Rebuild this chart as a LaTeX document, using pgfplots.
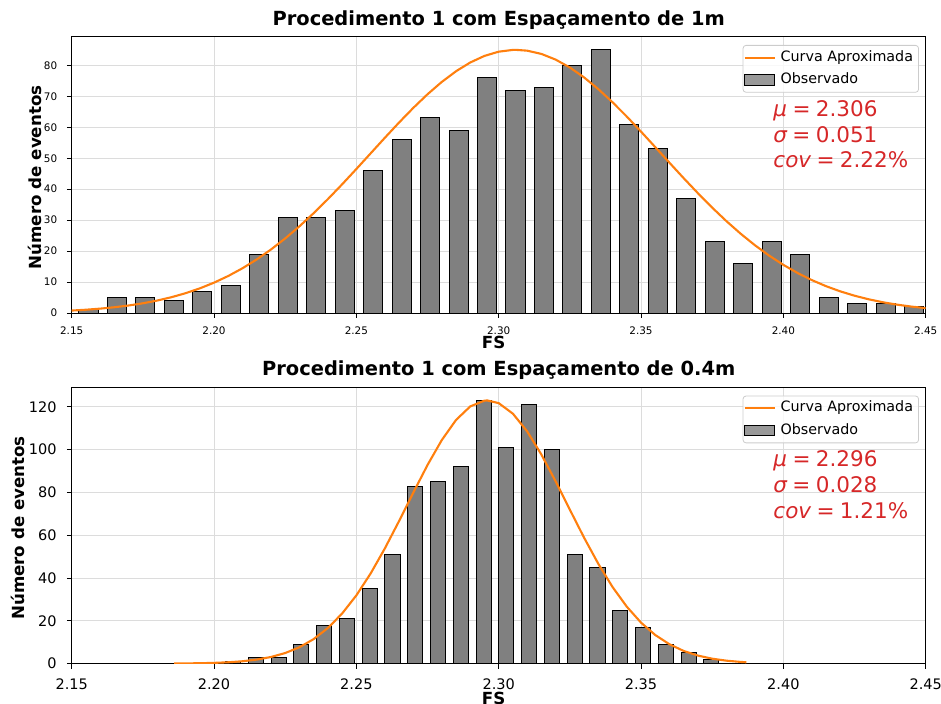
\documentclass[border=0pt]{standalone}
\usepackage{fontspec}
\setmainfont{DejaVu Sans}
\usepackage{pgfplots}
\pgfplotsset{compat=1.18}
\definecolor{barfill}{RGB}{128,128,128}
\definecolor{curveor}{RGB}{255,127,14}
\definecolor{annred}{RGB}{214,39,40}
\definecolor{gridc}{RGB}{220,220,220}
\definecolor{legedge}{RGB}{204,204,204}
\newcommand{\annfont}{\fontsize{21.5bp}{24bp}\selectfont}
\newcommand{\eqs}{\hspace{0.25em}=\hspace{0.25em}}
\pgfplotsset{
  histstyle/.style={
    scale only axis, width=854bp, height=276.3bp,
    xmin=2.15, xmax=2.45, ymin=0,
    xtick={2.15,2.2,2.25,2.3,2.35,2.4,2.45},
    xticklabels={2.15,2.20,2.25,2.30,2.35,2.40,2.45},
    grid=major, grid style={gridc, line width=0.8bp},
    axis line style={black, line width=1bp},
    tick align=outside, tick pos=left, major tick length=4.9bp,
    tick style={black, line width=1bp},
    /pgf/number format/assume math mode=true,
    legend style={at={(axis description cs:0.9921,0.970)}, anchor=north east,
      draw=legedge, line width=0.8bp, rounded corners=3bp, fill=white, fill opacity=0.8, text opacity=1,
      font=\fontsize{14.3bp}{16bp}\selectfont, inner xsep=0.5bp, inner ysep=4bp, row sep=5.5bp,
      nodes={inner xsep=5bp, inner ysep=1.5bp, text height=10.5bp, text depth=3.2bp}},
    legend cell align=left, reverse legend,
    title style={font=\bfseries\fontsize{19.44bp}{22bp}\selectfont, at={(axis description cs:0.5,1.0185)}, anchor=base},
    label style={font=\bfseries\fontsize{16.67bp}{19bp}\selectfont},
    xlabel={FS}, ylabel={Número de eventos},
    yticklabel style={anchor=east, inner sep=0pt},
    xticklabel style={anchor=base, inner sep=0pt},
  },
  barleg/.style={legend image code/.code={\draw[sharp corners, fill=barfill, draw=black, line width=1bp] (0bp,-5.3bp) rectangle (30bp,5.3bp);}},
  curveleg/.style={legend image code/.code={\draw[sharp corners, curveor, line width=2.1bp] (0bp,0bp) -- (30bp,0bp);}},
}
\begin{document}
\begin{tikzpicture}
\path[use as bounding box] (0bp,0bp) rectangle (941bp,-704bp);
% ---------------- top ----------------
\begin{axis}[histstyle, at={(71.7bp,-36.7bp)}, anchor=north west,
  ymax=89.25, ytick={0,10,20,30,40,50,60,70,80},
  title={Procedimento 1 com Espaçamento de 1m},
  ticklabel style={font=\fontsize{10.4bp}{12bp}\selectfont},
  xticklabel style={yshift=-16.7bp},
  yticklabel style={xshift=-9.4bp},
  xlabel style={at={(axis description cs:0.494,-0.1292)}, anchor=base},
  ylabel style={at={(axis description cs:-0.0351,0.491)}, anchor=base},
]
\addplot[ybar, bar width=0.0067, bar shift=0pt, fill=barfill, draw=black, line width=1bp, barleg]
coordinates {
(2.1559,1) (2.1659,5) (2.1759,5) (2.1859,4) (2.1959,7) (2.2059,9) (2.2159,19) (2.2259,31)
(2.2359,31) (2.2459,33) (2.2559,46) (2.2659,56) (2.2759,63) (2.2859,59) (2.2959,76) (2.3059,72)
(2.3159,73) (2.3259,80) (2.3359,85) (2.3459,61) (2.3559,53) (2.3659,37) (2.3759,23) (2.3859,16)
(2.3959,23) (2.4059,19) (2.4159,5) (2.4259,3) (2.4359,3) (2.4459,2)};
\addlegendentry{Observado}
\addplot[curveor, line width=2.1bp, mark=none, curveleg]
coordinates {
(2.150,0.790) (2.155,1.061) (2.160,1.412) (2.165,1.861) (2.170,2.428) (2.175,3.138)
(2.180,4.018) (2.185,5.094) (2.190,6.398) (2.195,7.958) (2.200,9.804) (2.205,11.961)
(2.210,14.455) (2.215,17.301) (2.220,20.509) (2.225,24.082) (2.230,28.004) (2.235,32.253)
(2.240,36.792) (2.245,41.569) (2.250,46.517) (2.255,51.555) (2.260,56.593) (2.265,61.529)
(2.270,66.256) (2.275,70.662) (2.280,74.642) (2.285,78.091) (2.290,80.918) (2.295,83.046)
(2.300,84.414) (2.305,84.984) (2.306,85.000) (2.310,84.739) (2.315,83.687) (2.320,81.857)
(2.325,79.301) (2.330,76.091) (2.335,72.312) (2.340,68.063) (2.345,63.451) (2.350,58.585)
(2.355,53.575) (2.360,48.526) (2.365,43.533) (2.370,38.679) (2.375,34.036) (2.380,29.666)
(2.385,25.608) (2.390,21.896) (2.395,18.540) (2.400,15.550) (2.405,12.918) (2.410,10.629)
(2.415,8.659) (2.420,6.989) (2.425,5.587) (2.430,4.423) (2.435,3.468) (2.440,2.693)
(2.445,2.072) (2.450,1.578)};
\addlegendentry{Curva Aproximada}
\node[anchor=base west, inner sep=0pt, text=annred, font=\annfont]
  at (axis description cs:0.8215,0.711) {{\itshape μ}\eqs 2.306};
\node[anchor=base west, inner sep=0pt, text=annred, font=\annfont]
  at (axis description cs:0.8215,0.618) {{\itshape σ}\eqs 0.051};
\node[anchor=base west, inner sep=0pt, text=annred, font=\annfont]
  at (axis description cs:0.8215,0.525) {{\itshape cov}\eqs 2.22\%};
\end{axis}
% ---------------- bottom ----------------
\begin{axis}[histstyle, at={(71.7bp,-387.3bp)}, anchor=north west,
  ymax=129.15, ytick={0,20,40,60,80,100,120},
  title={Procedimento 1 com Espaçamento de 0.4m},
  title style={at={(axis description cs:0.5,1.0228)}},
  ticklabel style={font=\fontsize{14.5bp}{16bp}\selectfont},
  xticklabel style={yshift=-20.7bp},
  yticklabel style={xshift=-10bp},
  xlabel style={at={(axis description cs:0.494,-0.1467)}, anchor=base},
  ylabel style={at={(axis description cs:-0.0547,0.491)}, anchor=base},
]
\addplot[ybar, bar width=0.0053, bar shift=0pt, fill=barfill, draw=black, line width=1bp, barleg]
coordinates {
(2.2067,1) (2.2147,3) (2.2227,3) (2.2307,9) (2.2387,18) (2.2467,21) (2.2547,35) (2.2627,51)
(2.2707,83) (2.2787,85) (2.2867,92) (2.2947,123) (2.3027,101) (2.3107,121) (2.3187,100)
(2.3267,51) (2.3347,45) (2.3427,25) (2.3507,17) (2.3587,9) (2.3667,5) (2.3747,2)};
\addlegendentry{Observado}
\addplot[curveor, line width=2.1bp, mark=none, curveleg]
coordinates {
(2.186,0.055) (2.190,0.095) (2.195,0.184) (2.200,0.345) (2.205,0.626) (2.210,1.100)
(2.215,1.874) (2.220,3.091) (2.225,4.940) (2.230,7.645) (2.235,11.462) (2.240,16.646)
(2.245,23.415) (2.250,31.903) (2.255,42.103) (2.260,53.820) (2.265,66.640) (2.270,79.923)
(2.275,92.845) (2.280,104.47) (2.285,113.87) (2.290,120.21) (2.295,122.92) (2.296,123.00)
(2.300,121.75) (2.305,116.81) (2.310,108.55) (2.315,97.705) (2.320,85.186) (2.325,71.940)
(2.330,58.847) (2.335,46.626) (2.340,35.784) (2.345,26.601) (2.350,19.154) (2.355,13.358)
(2.360,9.024) (2.365,5.905) (2.370,3.743) (2.375,2.298) (2.380,1.366) (2.385,0.787)
(2.387,0.626)};
\addlegendentry{Curva Aproximada}
\node[anchor=base west, inner sep=0pt, text=annred, font=\annfont]
  at (axis description cs:0.8215,0.712) {{\itshape μ}\eqs 2.296};
\node[anchor=base west, inner sep=0pt, text=annred, font=\annfont]
  at (axis description cs:0.8215,0.618) {{\itshape σ}\eqs 0.028};
\node[anchor=base west, inner sep=0pt, text=annred, font=\annfont]
  at (axis description cs:0.8215,0.525) {{\itshape cov}\eqs 1.21\%};
\end{axis}
\end{tikzpicture}
\end{document}
